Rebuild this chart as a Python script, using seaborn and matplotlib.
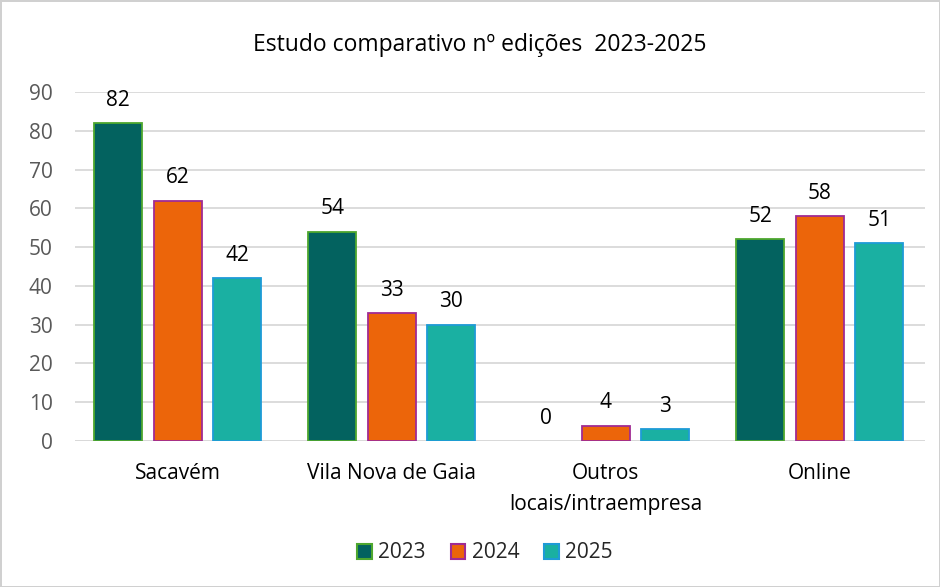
import pandas as pd
import matplotlib
matplotlib.use('Agg')
import matplotlib.pyplot as plt
import seaborn as sns

# Values
locations = ['Sacavém', 'Vila Nova de Gaia', 'Outros\nlocais/intraempresa', 'Online']
years = ['2023', '2024', '2025']
ed_2023 = [82, 54, 0, 52]
ed_2024 = [62, 33, 4, 58]
ed_2025 = [42, 30, 3, 51]

fill_colors = ['#03625F', '#EC650A', '#1AB0A2']
edge_colors = ['#4EA72E', '#A02B93', '#1E9BD7']

data = pd.DataFrame({
    'local': locations * 3,
    'ano': [y for y in years for _ in locations],
    'edicoes': ed_2023 + ed_2024 + ed_2025,
})

sns.set_theme(style='white')
plt.rcParams['font.family'] = ['Open Sans', 'DejaVu Sans']

fig = plt.figure(figsize=(9.4, 5.87), dpi=100)
fig.patch.set_edgecolor('#D0D0D0')
fig.patch.set_linewidth(2)
ax = fig.add_axes([0.0798, 0.2487, 0.904, 0.5945])

sns.barplot(data=data, x='local', y='edicoes', hue='ano', order=locations,
            hue_order=years, palette=fill_colors, saturation=1, width=0.834,
            gap=0.19, ax=ax, legend=False)

# edge colours per series + value labels
for cont, ec in zip(ax.containers, edge_colors):
    for bar in cont:
        bar.set_edgecolor(ec)
        bar.set_linewidth(1.3 if bar.get_height() > 0 else 0)
    ax.bar_label(cont, fmt='%d', padding=9, fontsize=15, color='black')

ax.set_ylim(0, 90)
ax.set_xlim(-0.48, 3.49)
ax.set_yticks(range(0, 91, 10))
ax.yaxis.grid(True, color='#D9D9D9', linewidth=1.3)
ax.set_axisbelow(True)
ax.axhline(0, color='#D9D9D9', linewidth=1.3, zorder=0)
sns.despine(ax=ax, left=True, bottom=True)
ax.tick_params(axis='y', length=0, pad=16, labelsize=15, labelcolor='#595959')
ax.tick_params(axis='x', length=0, pad=16, labelsize=15, labelcolor='black')
for lbl in ax.get_xticklabels():
    lbl.set_linespacing(1.6)
ax.set_xlabel('')
ax.set_ylabel('')

fig.text(480 / 940, 1 - 45 / 587, 'Estudo comparativo nº edições  2023-2025',
         ha='center', va='center', fontsize=16.5, color='black')

handles = [plt.Rectangle((0, 0), 1, 1, facecolor=fc, edgecolor=ec, linewidth=1.5)
           for fc, ec in zip(fill_colors, edge_colors)]
fig.legend(handles, years, loc='center', bbox_to_anchor=(485 / 940, 1 - 553 / 587),
           ncol=3, frameon=False, fontsize=15, handlelength=0.7, handleheight=0.7,
           handletextpad=0.3, columnspacing=1.2)

fig.savefig('out.png', dpi=100)
